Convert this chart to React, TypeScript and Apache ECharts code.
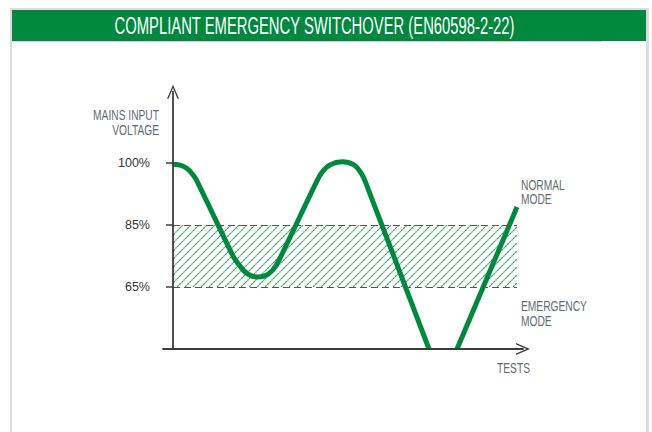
import React, { useEffect, useRef } from 'react';
import * as echarts from 'echarts';

const TITLE = 'COMPLIANT EMERGENCY SWITCHOVER (EN60598-2-22)';
const yTickLevels = [1, 2, 3];
const yTickLabels = ['65%', '85%', '100%'];
const yAxisName = 'MAINS INPUT\nVOLTAGE';
const xAxisName = 'TESTS';
const normalLabel = 'NORMAL\nMODE';
const emergencyLabel = 'EMERGENCY\nMODE';

// band (65% .. 85%) and middle threshold, in axis units
const bandLow = 1;
const bandHigh = 2;
const bandEndX = 34.4;
const midLevel = 1.52;
const midStartX = -0.6;
const midEndX = 35.7;

// mains voltage curve (x: tests, y: level)
const curveA: [number, number][] = [
  [0, 2.98],
  [0.8, 2.96],
  [1.4, 2.91],
  [1.9, 2.83],
  [2.3, 2.74],
  [6.0, 1.5],
  [6.5, 1.38],
  [7.1, 1.26],
  [7.7, 1.19],
  [8.4, 1.16],
  [9.2, 1.18],
  [9.9, 1.26],
  [10.5, 1.4],
  [14.3, 2.68],
  [14.9, 2.85],
  [15.7, 2.97],
  [16.9, 3.02],
  [18.1, 2.97],
  [18.8, 2.84],
  [19.2, 2.71],
  [25.6, 0],
];
const curveB: [number, number][] = [
  [28.4, 0],
  [34.4, 2.29],
];

const GREEN = '#00883f';
const AXIS = '#3c3c3c';
const LABEL = '#5f6b72';
const FONT = '"Liberation Sans", Arial, sans-serif';
const ARROW = 'path://M0,14L6,0L12,14L10.5,14L6,3.4L1.5,14Z';
const HATCH =
  'data:image/svg+xml;charset=utf-8,' +
  encodeURIComponent(
    '<svg xmlns="http://www.w3.org/2000/svg" width="8" height="8">' +
      '<path d="M-1 9L9 -1M-1 1L1 -1M7 9L9 7" stroke="#129550" stroke-width="1.1" stroke-dasharray="2.2 0.8" fill="none"/>' +
      '</svg>'
  );

function measure(text: string, size: number): number {
  const c = document.createElement('canvas');
  const ctx = c.getContext('2d');
  if (!ctx) return text.length * size * 0.6;
  ctx.font = `${size}px ${FONT}`;
  return ctx.measureText(text).width;
}

export default function App() {
  const ref = useRef<HTMLDivElement>(null);
  useEffect(() => {
    if (!ref.current) return;
    const chart = echarts.init(ref.current, null, { renderer: 'svg' });
    const titleScale = 401 / measure(TITLE, 23);
    const lblScale = 66 / measure('MAINS INPUT', 14);
    const pattern: any = { image: HATCH, repeat: 'repeat', imageWidth: 8, imageHeight: 8 };
    const dashStyle = { type: [7, 4], color: '#555', width: 1.2 };

    const textBase = { fill: LABEL, fontSize: 14, fontFamily: FONT, verticalAlign: 'middle', textVerticalAlign: 'middle' };

    chart.setOption({
      animation: false,
      grid: { left: 163, top: 91.7, width: 360, height: 257.3, containLabel: false },
      xAxis: {
        type: 'value',
        min: -1,
        max: 35,
        z: 5,
        axisLine: { onZero: true, symbol: ['none', ARROW], symbolSize: [12, 14], lineStyle: { color: AXIS, width: 1.8 } },
        axisTick: { show: false },
        axisLabel: { show: false },
        splitLine: { show: false },
      },
      yAxis: {
        type: 'value',
        min: 0,
        max: 4.15,
        interval: 1,
        z: 5,
        axisLine: { onZero: true, symbol: ['none', ARROW], symbolSize: [12, 14], lineStyle: { color: AXIS, width: 1.8 } },
        axisTick: { show: true, length: 7, customValues: yTickLevels, lineStyle: { color: AXIS, width: 1.5 } },
        axisLabel: {
          customValues: yTickLevels,
          formatter: (v: number) => {
            const i = yTickLevels.indexOf(v);
            return i >= 0 ? yTickLabels[i] : '';
          },
          margin: 13,
          fontSize: 12.5,
          color: '#333',
          fontFamily: FONT,
        },
        splitLine: { show: false },
      },
      graphic: [
        {
          type: 'text', x: 314.5, y: 26, scaleX: titleScale,
          style: { text: TITLE, fill: '#ffffff', fontSize: 23, fontFamily: FONT, align: 'center', textAlign: 'center', verticalAlign: 'middle', textVerticalAlign: 'middle' },
        },
        {
          type: 'text', x: 159, y: 122.5, scaleX: lblScale,
          style: { ...textBase, text: yAxisName, lineHeight: 15, align: 'right', textAlign: 'right' },
        },
        {
          type: 'text', x: 521, y: 192.5, scaleX: lblScale,
          style: { ...textBase, text: normalLabel, lineHeight: 14, align: 'left', textAlign: 'left' },
        },
        {
          type: 'text', x: 521, y: 313.5, scaleX: lblScale,
          style: { ...textBase, text: emergencyLabel, lineHeight: 15, align: 'left', textAlign: 'left' },
        },
        {
          type: 'text', x: 530, y: 368, scaleX: lblScale,
          style: { ...textBase, text: xAxisName, align: 'right', textAlign: 'right' },
        },
      ],
      series: [
        {
          type: 'line',
          data: curveA,
          smooth: 0.3,
          symbol: 'none',
          clip: false,
          z: 3,
          lineStyle: { color: GREEN, width: 5 },
          markArea: {
            silent: true,
            z: 1,
            itemStyle: { color: pattern, borderWidth: 0, opacity: 1 },
            data: [[{ coord: [0, bandLow] }, { coord: [bandEndX, bandHigh] }]],
          },
          markLine: {
            silent: true,
            z: 2,
            symbol: ['none', 'none'],
            label: { show: false },
            data: [
              [{ coord: [0, bandHigh], lineStyle: dashStyle }, { coord: [bandEndX, bandHigh] }],
              [{ coord: [0, bandLow], lineStyle: dashStyle }, { coord: [bandEndX, bandLow] }],
              [{ coord: [midStartX, midLevel], lineStyle: { type: 'solid', color: '#111', width: 1.3 } }, { coord: [midEndX, midLevel] }],
            ],
          },
        },
        {
          type: 'line',
          data: curveB,
          symbol: 'none',
          clip: false,
          z: 3,
          lineStyle: { color: GREEN, width: 5 },
        },
      ],
    });
    return () => chart.dispose();
  }, []);

  return (
    <div style={{ position: 'absolute', left: 0, top: 0, width: 652, height: 432, overflow: 'hidden', background: '#fff' }}>
      <div style={{ position: 'absolute', left: 10, top: 8, width: 639, height: 440, background: '#dcdcdc' }} />
      <div style={{ position: 'absolute', left: 12, top: 10, width: 634, height: 440, background: '#ffffff' }} />
      <div style={{ position: 'absolute', left: 12, top: 10, width: 634, height: 31, background: GREEN }} />
      <div style={{ position: 'absolute', left: 12, top: 41, width: 590, height: 1, background: '#d5d5d5' }} />
      <div ref={ref} style={{ position: 'absolute', left: 0, top: 0, width: 652, height: 432 }} />
    </div>
  );
}
